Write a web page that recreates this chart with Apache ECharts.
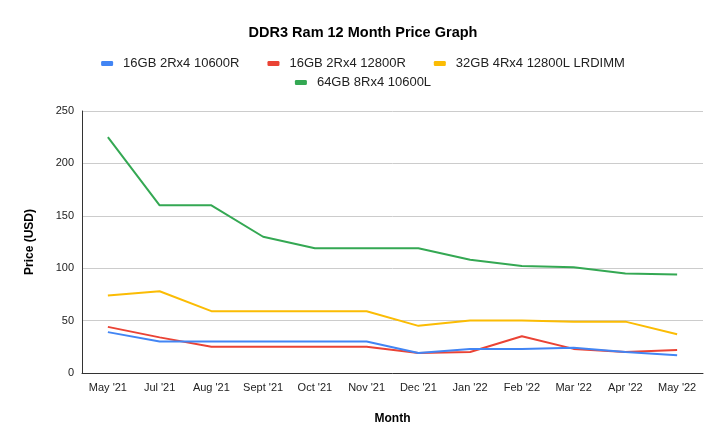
<!DOCTYPE html>
<html>
<head>
<meta charset="utf-8">
<script src="https://cdn.jsdelivr.net/npm/echarts@6/dist/echarts.min.js"></script>
<style>html,body{margin:0;padding:0;background:#fff}#c{width:726px;height:448px}</style>
</head>
<body>
<div id="c"></div>
<script>
var months = ["May '21","Jul '21","Aug '21","Sept '21","Oct '21","Nov '21","Dec '21","Jan '22","Feb '22","Mar '22","Apr '22","May '22"];
var s16_10600 = [39,30,30,30,30,30,19,23,23,24,20,17];
var s16_12800 = [44,34,25,25,25,25,19,20,35,23,20,22];
var s32_12800 = [74,78,59,59,59,59,45,50,50,49,49,37];
var s64_10600 = [225,160,160,130,119,119,119,108,102,101,95,94];
var names = ["16GB 2Rx4 10600R","16GB 2Rx4 12800R","32GB 4Rx4 12800L LRDIMM","64GB 8Rx4 10600L"];
var colors = ["#4285f4","#ea4335","#fbbc04","#34a853"];
var yTicks = [0,50,100,150,200,250];

var FONT = "Liberation Sans, Arial, sans-serif";
var chart = echarts.init(document.getElementById('c'), null, {renderer:'canvas'});
var dataSets = [s16_10600, s16_12800, s32_12800, s64_10600];
var series = names.map(function(n,i){
  return {name:n,type:'line',data:dataSets[i],symbol:'none',smooth:false,
    lineStyle:{color:colors[i],width:2},itemStyle:{color:colors[i]}, z: 10 - i};
});
var legendCommon = {
  icon:'roundRect', itemWidth:12, itemHeight:5, itemGap:28,
  textStyle:{fontFamily:FONT,fontSize:13,color:'#222',padding:[0,0,0,5]}
};
chart.setOption({
  animation:false,
  backgroundColor:'#fff',
  color:colors,
  title:{text:'DDR3 Ram 12 Month Price Graph',left:'center',top:20,
    textStyle:{fontFamily:FONT,fontSize:14.5,fontWeight:'bold',color:'#000'}},
  legend:[
    Object.assign({data:names.slice(0,3),left:'center',top:52},legendCommon),
    Object.assign({data:names.slice(3),left:'center',top:71},legendCommon)
  ],
  grid:{left:82,right:23,top:111,bottom:75,containLabel:false},
  xAxis:{type:'category',data:months,boundaryGap:true,
    name:'Month',nameLocation:'middle',nameGap:40,
    nameTextStyle:{fontFamily:FONT,fontSize:12,fontWeight:'bold',color:'#000'},
    axisLine:{lineStyle:{color:'#333',width:1}},axisTick:{show:false},
    axisLabel:{fontFamily:FONT,fontSize:11,color:'#222',margin:9,interval:0},
    splitLine:{show:false}},
  yAxis:{type:'value',min:yTicks[0],max:yTicks[yTicks.length-1],interval:50,
    name:'Price (USD)',nameLocation:'middle',nameGap:46,
    nameTextStyle:{fontFamily:FONT,fontSize:12,fontWeight:'bold',color:'#000'},
    axisLine:{show:true,lineStyle:{color:'#333',width:1}},axisTick:{show:false},
    axisLabel:{fontFamily:FONT,fontSize:11,color:'#222',margin:8},
    splitLine:{lineStyle:{color:'#ccc',width:1}}},
  series:series
});
</script>
</body>
</html>
